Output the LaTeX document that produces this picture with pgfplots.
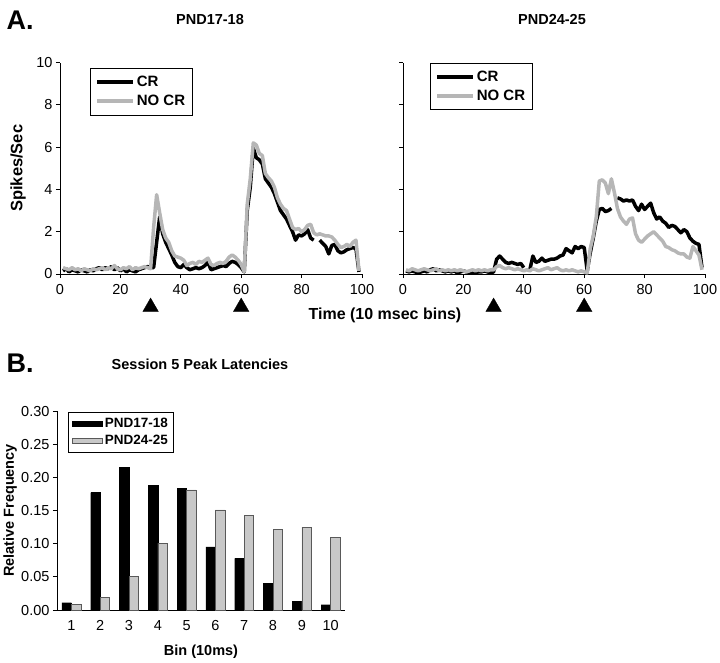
\documentclass[border=0pt]{standalone}
\usepackage{fontspec}
\setmainfont{Liberation Sans}
\usepackage{pgfplots}
\pgfplotsset{compat=1.18}

\definecolor{nocr}{RGB}{182,182,182}
\definecolor{barg}{RGB}{200,200,200}

\pgfplotsset{
  toppanel/.style={
    scale only axis, width=302pt, height=211.5pt,
    xmin=0, xmax=100, ymin=0, ymax=10,
    axis lines=left, axis line style={-, line width=0.8pt},
    tick style={black, line width=0.8pt}, tick align=outside,
    major tick length=4pt,
    xtick={0,20,...,100}, ytick={0,2,...,10},
    tick label style={font=\fontsize{14.5}{16}\selectfont},
    xticklabel style={yshift=-3pt},
    /pgf/number format/assume math mode=true,
    clip=false, unbounded coords=jump,
    legend cell align=left,
    legend image code/.code={\draw[##1] (0pt,0pt) -- (36pt,0pt);},
    legend style={draw=black, line width=0.8pt, anchor=north west,
      font=\bfseries\fontsize{15}{17}\selectfont,
      inner xsep=5pt, inner ysep=6pt, row sep=3pt},
  },
  crline/.style={black, line width=3.5pt, line join=round},
  nocrline/.style={nocr, line width=3.5pt, line join=round},
  stim/.style={only marks, mark=triangle*, mark size=9pt,
    mark options={fill=black, draw=black, line width=0.3pt}, forget plot},
}

\begin{document}
\begin{tikzpicture}
\path[use as bounding box] (0,0) rectangle (720pt,-662pt);

\node[anchor=west, font=\bfseries\fontsize{27}{30}\selectfont] at (3pt,-20pt) {A.};
\node[font=\bfseries\fontsize{14.5}{16}\selectfont] at (210pt,-20pt) {PND17-18};
\node[font=\bfseries\fontsize{14.5}{16}\selectfont] at (552pt,-20pt) {PND24-25};
\node[font=\bfseries\fontsize{16}{18}\selectfont] at (385pt,-315pt) {Time (10 msec bins)};

% PND17-18
\begin{axis}[toppanel, at={(60pt,-274pt)}, anchor=south west,
  ylabel={Spikes/Sec},
  ylabel style={at={(axis description cs:-0.139,0.5)}, anchor=center,
    font=\bfseries\fontsize{16.5}{18}\selectfont},
  legend style={at={(axis description cs:0.099,0.976)}}]
\addplot[crline] coordinates {
(1,0.15)(2,0.25)(3,0.1)(4,0.2)(5,0.15)(6,0.1)(7,0.2)(8,0.15)(9,0.1)(10,0.2)
(11,0.15)(12,0.25)(13,0.3)(14,0.2)(15,0.3)(16,0.25)(17,0.35)(18,0.2)(19,0.3)(20,0.15)
(21,0.25)(22,0.1)(23,0.2)(24,0.15)(25,0.1)(26,0.2)(27,0.25)(28,0.3)(29,0.35)(30,0.3)
(31,0.3)(32,1.5)(33,2.7)(34,1.9)(35,1.5)(36,1.2)(37,0.9)(38,0.55)(39,0.35)(40,0.3)
(41,0.45)(42,0.3)(43,0.2)(44,0.25)(45,0.3)(46,0.25)(47,0.3)(48,0.4)(49,0.55)(50,0.2)
(51,0.25)(52,0.3)(53,0.35)(54,0.4)(55,0.35)(56,0.5)(57,0.6)(58,0.55)(59,0.45)(60,0.3)
(61,0.1)(62,3.0)(63,4.1)(64,5.95)(65,5.5)(66,5.4)(67,5.2)(68,4.5)(69,4.3)(70,4.1)
(71,3.8)(72,3.4)(73,3.0)(74,2.8)(75,2.6)(76,2.3)(77,2.0)(78,1.6)(79,1.85)(80,1.8)
(81,1.9)(82,2.1)(83,1.7)(84,1.6)(85,nan)(86,1.6)(87,1.45)(88,1.3)(89,0.95)(90,1.35)
(91,1.4)(92,1.1)(93,1.0)(94,1.05)(95,1.15)(96,1.2)(97,1.25)(98,1.2)(99,0.1)
};
\addlegendentry{CR}
\addplot[nocrline] coordinates {
(1,0.3)(2,0.25)(3,0.2)(4,0.3)(5,0.2)(6,0.25)(7,0.15)(8,0.25)(9,0.2)(10,0.15)
(11,0.25)(12,0.2)(13,0.25)(14,0.3)(15,0.2)(16,0.3)(17,0.25)(18,0.4)(19,0.25)(20,0.2)
(21,0.3)(22,0.25)(23,0.35)(24,0.2)(25,0.3)(26,0.25)(27,0.3)(28,0.35)(29,0.3)(30,0.25)
(31,2.2)(32,3.75)(33,2.9)(34,2.1)(35,1.7)(36,1.5)(37,1.1)(38,0.85)(39,0.8)(40,0.75)
(41,0.65)(42,0.4)(43,0.5)(44,0.55)(45,0.45)(46,0.6)(47,0.55)(48,0.65)(49,0.75)(50,0.45)
(51,0.4)(52,0.5)(53,0.55)(54,0.5)(55,0.6)(56,0.8)(57,0.9)(58,0.8)(59,0.65)(60,0.45)
(61,0.1)(62,3.3)(63,4.5)(64,6.2)(65,6.1)(66,5.7)(67,5.6)(68,4.75)(69,4.55)(70,4.4)
(71,4.1)(72,3.6)(73,3.3)(74,3.1)(75,3.0)(76,2.6)(77,2.2)(78,2.1)(79,2.15)(80,2.0)
(81,2.1)(82,2.3)(83,2.35)(84,1.95)(85,1.85)(86,1.9)(87,1.85)(88,1.8)(89,1.8)(90,1.75)
(91,1.6)(92,1.4)(93,1.25)(94,1.3)(95,1.4)(96,1.3)(97,1.5)(98,1.6)(99,0.15)
};
\addlegendentry{NO CR}
\addplot[stim] coordinates {(30,-1.56)(60,-1.56)};
\end{axis}

% PND24-25
\begin{axis}[toppanel, at={(403pt,-274pt)}, anchor=south west,
  yticklabels={},
  legend style={at={(axis description cs:0.089,1.0)}}]
\addplot[crline] coordinates {
(1,0.15)(2,0.1)(3,0.15)(4,0.1)(5,0.05)(6,0.1)(7,0.15)(8,0.1)(9,0.2)(10,0.25)
(11,0.15)(12,0.2)(13,0.15)(14,0.1)(15,0.15)(16,0.1)(17,0.15)(18,0.05)(19,0.1)(20,0.15)
(21,0.1)(22,0.05)(23,0.1)(24,0.05)(25,0.1)(26,0.1)(27,0.15)(28,0.1)(29,0.05)(30,0.1)
(31,0.7)(32,0.85)(33,0.7)(34,0.55)(35,0.5)(36,0.55)(37,0.5)(38,0.45)(39,0.5)(40,0.3)
(41,nan)(42,0.2)(43,0.85)(44,0.55)(45,0.6)(46,0.75)(47,0.6)(48,0.65)(49,0.7)(50,0.7)
(51,0.75)(52,0.85)(53,0.9)(54,1.2)(55,1.1)(56,1.0)(57,1.3)(58,1.2)(59,1.3)(60,1.25)
(61,0.15)(62,1.0)(63,1.7)(64,2.5)(65,3.05)(66,3.1)(67,2.95)(68,3.0)(69,3.1)(70,nan)
(71,3.6)(72,3.55)(73,3.45)(74,3.5)(75,3.45)(76,3.5)(77,3.2)(78,3.0)(79,3.3)(80,3.05)
(81,3.2)(82,3.35)(83,2.9)(84,2.6)(85,2.7)(86,2.5)(87,2.4)(88,2.2)(89,2.3)(90,2.25)
(91,2.1)(92,1.95)(93,2.1)(94,2.0)(95,1.7)(96,1.55)(97,1.45)(98,1.4)(99,0.3)
};
\addlegendentry{CR}
\addplot[nocrline] coordinates {
(1,0.2)(2,0.15)(3,0.25)(4,0.2)(5,0.15)(6,0.2)(7,0.25)(8,0.2)(9,0.15)(10,0.2)
(11,0.25)(12,0.15)(13,0.2)(14,0.15)(15,0.2)(16,0.15)(17,0.2)(18,0.15)(19,0.2)(20,0.15)
(21,0.1)(22,0.15)(23,0.2)(24,0.15)(25,0.2)(26,0.15)(27,0.2)(28,0.15)(29,0.2)(30,0.2)
(31,0.35)(32,0.4)(33,0.3)(34,0.25)(35,0.3)(36,0.25)(37,0.2)(38,0.25)(39,0.2)(40,0.15)
(41,0.2)(42,0.15)(43,0.25)(44,0.2)(45,0.15)(46,0.2)(47,0.25)(48,0.3)(49,0.2)(50,0.25)
(51,0.3)(52,0.2)(53,0.15)(54,0.2)(55,0.15)(56,0.2)(57,0.15)(58,0.1)(59,0.15)(60,0.1)
(61,0.05)(62,1.2)(63,1.8)(64,2.7)(65,4.4)(66,4.45)(67,4.3)(68,3.8)(69,4.5)(70,3.85)
(71,3.1)(72,2.7)(73,2.5)(74,2.35)(75,2.6)(76,2.65)(77,1.9)(78,1.6)(79,1.5)(80,1.65)
(81,1.8)(82,1.9)(83,2.0)(84,1.85)(85,1.7)(86,1.55)(87,1.3)(88,1.25)(89,1.15)(90,1.1)
(91,1.0)(92,0.95)(93,0.95)(94,0.8)(95,0.75)(96,1.3)(97,1.1)(98,0.9)(99,0.2)
};
\addlegendentry{NO CR}
\addplot[stim] coordinates {(30,-1.56)(60,-1.56)};
\end{axis}

% Panel B
\node[anchor=west, font=\bfseries\fontsize{27}{30}\selectfont] at (3pt,-363pt) {B.};
\node[font=\bfseries\fontsize{14.5}{16}\selectfont] at (200pt,-364pt) {Session 5 Peak Latencies};

\begin{axis}[scale only axis, width=288pt, height=199pt,
  at={(57pt,-610pt)}, anchor=south west,
  ybar=0pt, bar width=9.5pt,
  xmin=0.5, xmax=10.5, ymin=0, ymax=0.3,
  axis lines=left, axis line style={-, line width=0.8pt},
  tick style={black, line width=0.8pt}, tick align=outside,
  major tick length=4pt,
  xtick={1,...,10}, x tick style={draw=none},
  ytick={0,0.05,0.1,0.15,0.2,0.25,0.3},
  yticklabel style={/pgf/number format/.cd, fixed, fixed zerofill, precision=2},
  tick label style={font=\fontsize{14.5}{16}\selectfont},
  xticklabel style={yshift=-3pt},
  /pgf/number format/assume math mode=true,
  xlabel={Bin (10ms)}, ylabel={Relative Frequency},
  xlabel style={at={(axis description cs:0.5,-0.211)}, anchor=center,
    font=\bfseries\fontsize{14.5}{16}\selectfont},
  ylabel style={at={(axis description cs:-0.163,0.5)}, anchor=center,
    font=\bfseries\fontsize{14.5}{16}\selectfont},
  legend cell align=left,
  legend image code/.code={\draw[#1] (0pt,-2.5pt) rectangle (30pt,2.5pt);},
  legend style={at={(axis description cs:0.038,0.995)}, anchor=north west,
    draw=black, line width=0.8pt,
    font=\bfseries\fontsize{13.5}{15}\selectfont,
    inner xsep=4pt, inner ysep=4pt, row sep=2pt}]
\addplot[fill=black, draw=black, line width=0.4pt] coordinates {
(1,0.011)(2,0.177)(3,0.215)(4,0.188)(5,0.183)(6,0.095)(7,0.078)(8,0.040)(9,0.013)(10,0.008)
};
\addlegendentry{PND17-18}
\addplot[fill=barg, draw=black!65, line width=0.5pt] coordinates {
(1,0.009)(2,0.019)(3,0.051)(4,0.101)(5,0.181)(6,0.151)(7,0.143)(8,0.121)(9,0.125)(10,0.109)
};
\addlegendentry{PND24-25}
\end{axis}
\end{tikzpicture}
\end{document}
